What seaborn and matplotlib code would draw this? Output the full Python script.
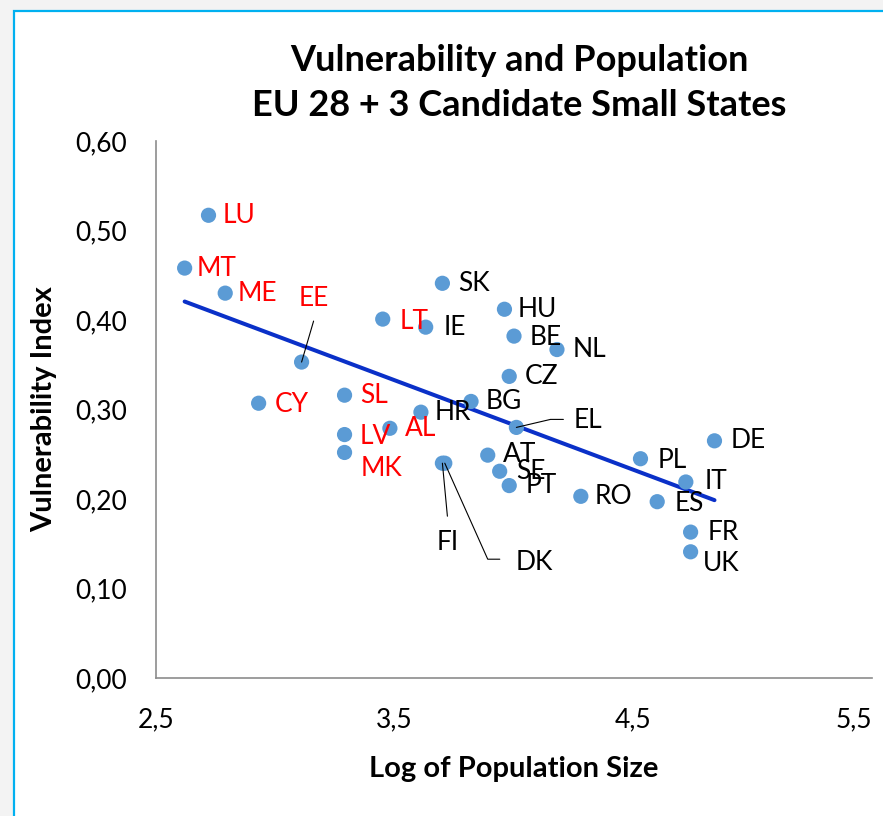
import matplotlib
matplotlib.use("Agg")
import numpy as np
import pandas as pd
import matplotlib.pyplot as plt
import seaborn as sns
from matplotlib.patches import Rectangle
from matplotlib.ticker import FuncFormatter

# Data
countries = ["LU", "MT", "ME", "EE", "CY", "SL", "LV", "MK", "AL", "LT",
             "IE", "SK", "HR", "FI", "DK", "HU", "BE", "NL", "CZ", "BG",
             "EL", "AT", "SE", "PT", "RO", "DE", "PL", "IT", "ES", "FR", "UK"]
log_population = [2.72, 2.62, 2.79, 3.11, 2.93, 3.29, 3.29, 3.29, 3.48, 3.45,
                  3.63, 3.70, 3.61, 3.70, 3.71, 3.96, 4.00, 4.18, 3.98, 3.82,
                  4.01, 3.89, 3.94, 3.98, 4.28, 4.84, 4.53, 4.72, 4.60, 4.74, 4.74]
vulnerability = [0.517, 0.458, 0.430, 0.353, 0.307, 0.316, 0.272, 0.252, 0.279, 0.401,
                 0.392, 0.441, 0.297, 0.240, 0.240, 0.412, 0.382, 0.367, 0.337, 0.309,
                 0.280, 0.249, 0.231, 0.215, 0.203, 0.265, 0.245, 0.219, 0.197, 0.163, 0.141]
small_states = ["LU", "MT", "ME", "EE", "CY", "SL", "LV", "MK", "AL", "LT"]

x_ticks = [2.5, 3.5, 4.5, 5.5]
y_ticks = [0.0, 0.1, 0.2, 0.3, 0.4, 0.5, 0.6]

df = pd.DataFrame({"country": countries, "logpop": log_population, "vuln": vulnerability})

# label offsets in pixels (dx, dy with dy positive downwards)
label_offsets = {
    "LU": (14, 0), "MT": (12, 0), "ME": (12, 0), "CY": (16, 1), "SL": (16, 0),
    "LV": (15, 2), "MK": (16, 16), "AL": (15, 0), "LT": (17, 2), "IE": (18, 0),
    "SK": (16, 0), "HR": (14, 0), "BG": (15, 0), "HU": (13, 0), "BE": (16, 1),
    "NL": (16, 0), "CZ": (16, 0), "AT": (15, -1), "SE": (16, 0), "PT": (16, 0),
    "RO": (14, 0), "DE": (16, 0), "PL": (17, 2), "IT": (19, 0), "ES": (17, 2),
    "FR": (17, 0), "UK": (12, 12),
}
# labels with leader lines: text offset (px), line end offset (px), angle at point
leader_labels = {
    "EE": dict(text=(12, -64), ha="center", line=(12, -41), angle=None),
    "FI": dict(text=(5, 79), ha="center", line=(5, 53), angle=None),
    "DK": dict(text=(71, 99), ha="left", line=(55, 96), angle=-65.9),
    "EL": dict(text=(57, -7), ha="left", line=(47, -8), angle=13.2),
}

sns.set_style("white")
plt.rcParams["font.family"] = ["Lato", "DejaVu Sans"]
plt.rcParams["text.color"] = "black"
plt.rcParams["axes.labelcolor"] = "black"
plt.rcParams["xtick.color"] = "black"
plt.rcParams["ytick.color"] = "black"

fig = plt.figure(figsize=(8.83, 8.16), dpi=100)
fig.patch.set_facecolor("#f3f3f3")
fig.add_artist(Rectangle((14 / 883, -0.2), 1.2, 1.2 - 11 / 816, transform=fig.transFigure,
                         facecolor="white", edgecolor="#00b0f0", linewidth=1.6, zorder=-10))

ax = fig.add_axes([156 / 883, 1 - 678 / 816, (872 - 156) / 883, (678 - 141) / 816])
ax.set_facecolor("none")

sns.regplot(data=df, x="logpop", y="vuln", ax=ax, ci=None, scatter=False, truncate=True,
            line_kws=dict(color="#0a30c8", linewidth=2.9, solid_capstyle="round", zorder=2))
sns.scatterplot(data=df, x="logpop", y="vuln", ax=ax, color="#5b9bd5", s=120,
                edgecolor="none", zorder=3)

px = 0.72  # pixels -> points
for _, row in df.iterrows():
    c = row["country"]
    col = "#ff0000" if c in small_states else "black"
    if c in label_offsets:
        dx, dy = label_offsets[c]
        ax.annotate(c, (row["logpop"], row["vuln"]), xytext=(dx * px, -dy * px),
                    textcoords="offset points", ha="left", va="center",
                    fontsize=19, color=col, zorder=4)
    else:
        spec = leader_labels[c]
        tx, ty = spec["text"]
        lx, ly = spec["line"]
        ax.annotate(c, (row["logpop"], row["vuln"]), xytext=(tx * px, -ty * px),
                    textcoords="offset points", ha=spec["ha"], va="center",
                    fontsize=19, color=col, zorder=4)
        if spec["angle"] is None:
            cs = "arc3"
        else:
            cs = "angle,angleA=0,angleB=%.1f,rad=0" % spec["angle"]
        ax.annotate("", (row["logpop"], row["vuln"]), xytext=(lx * px, -ly * px),
                    textcoords="offset points",
                    arrowprops=dict(arrowstyle="-", color="black", lw=0.8,
                                    shrinkA=0, shrinkB=0, connectionstyle=cs),
                    zorder=4)

ax.set_xlim(2.5, 5.5)
ax.set_ylim(0, 0.6)
ax.set_xticks(x_ticks)
ax.set_yticks(y_ticks)
ax.xaxis.set_major_formatter(FuncFormatter(lambda v, p: ("%.1f" % v).replace(".", ",")))
ax.yaxis.set_major_formatter(FuncFormatter(lambda v, p: ("%.2f" % v).replace(".", ",")))
ax.tick_params(axis="both", length=0, labelsize=19, pad=21, colors="black")
# the last x label sits inside the frame, right-aligned
ax.get_xticklabels()[-1].set_horizontalalignment("right")
ax.get_xticklabels()[0].set_x(2.52)

for side in ["top", "right"]:
    ax.spines[side].set_visible(False)
for side in ["left", "bottom"]:
    ax.spines[side].set_color("#8c8c8c")
    ax.spines[side].set_linewidth(1.2)

ax.set_xlabel("Log of Population Size", fontsize=21, fontweight="bold", labelpad=17)
ax.set_ylabel("Vulnerability Index", fontsize=21, fontweight="bold", labelpad=13)
ax.grid(False)

fig.text(519 / 883, 1 - 83 / 816, "Vulnerability and Population\nEU 28 + 3 Candidate Small States",
         ha="center", va="center", fontsize=26, fontweight="bold", linespacing=1.45,
         color="black")

fig.savefig("out.png", dpi=100, facecolor=fig.get_facecolor())
